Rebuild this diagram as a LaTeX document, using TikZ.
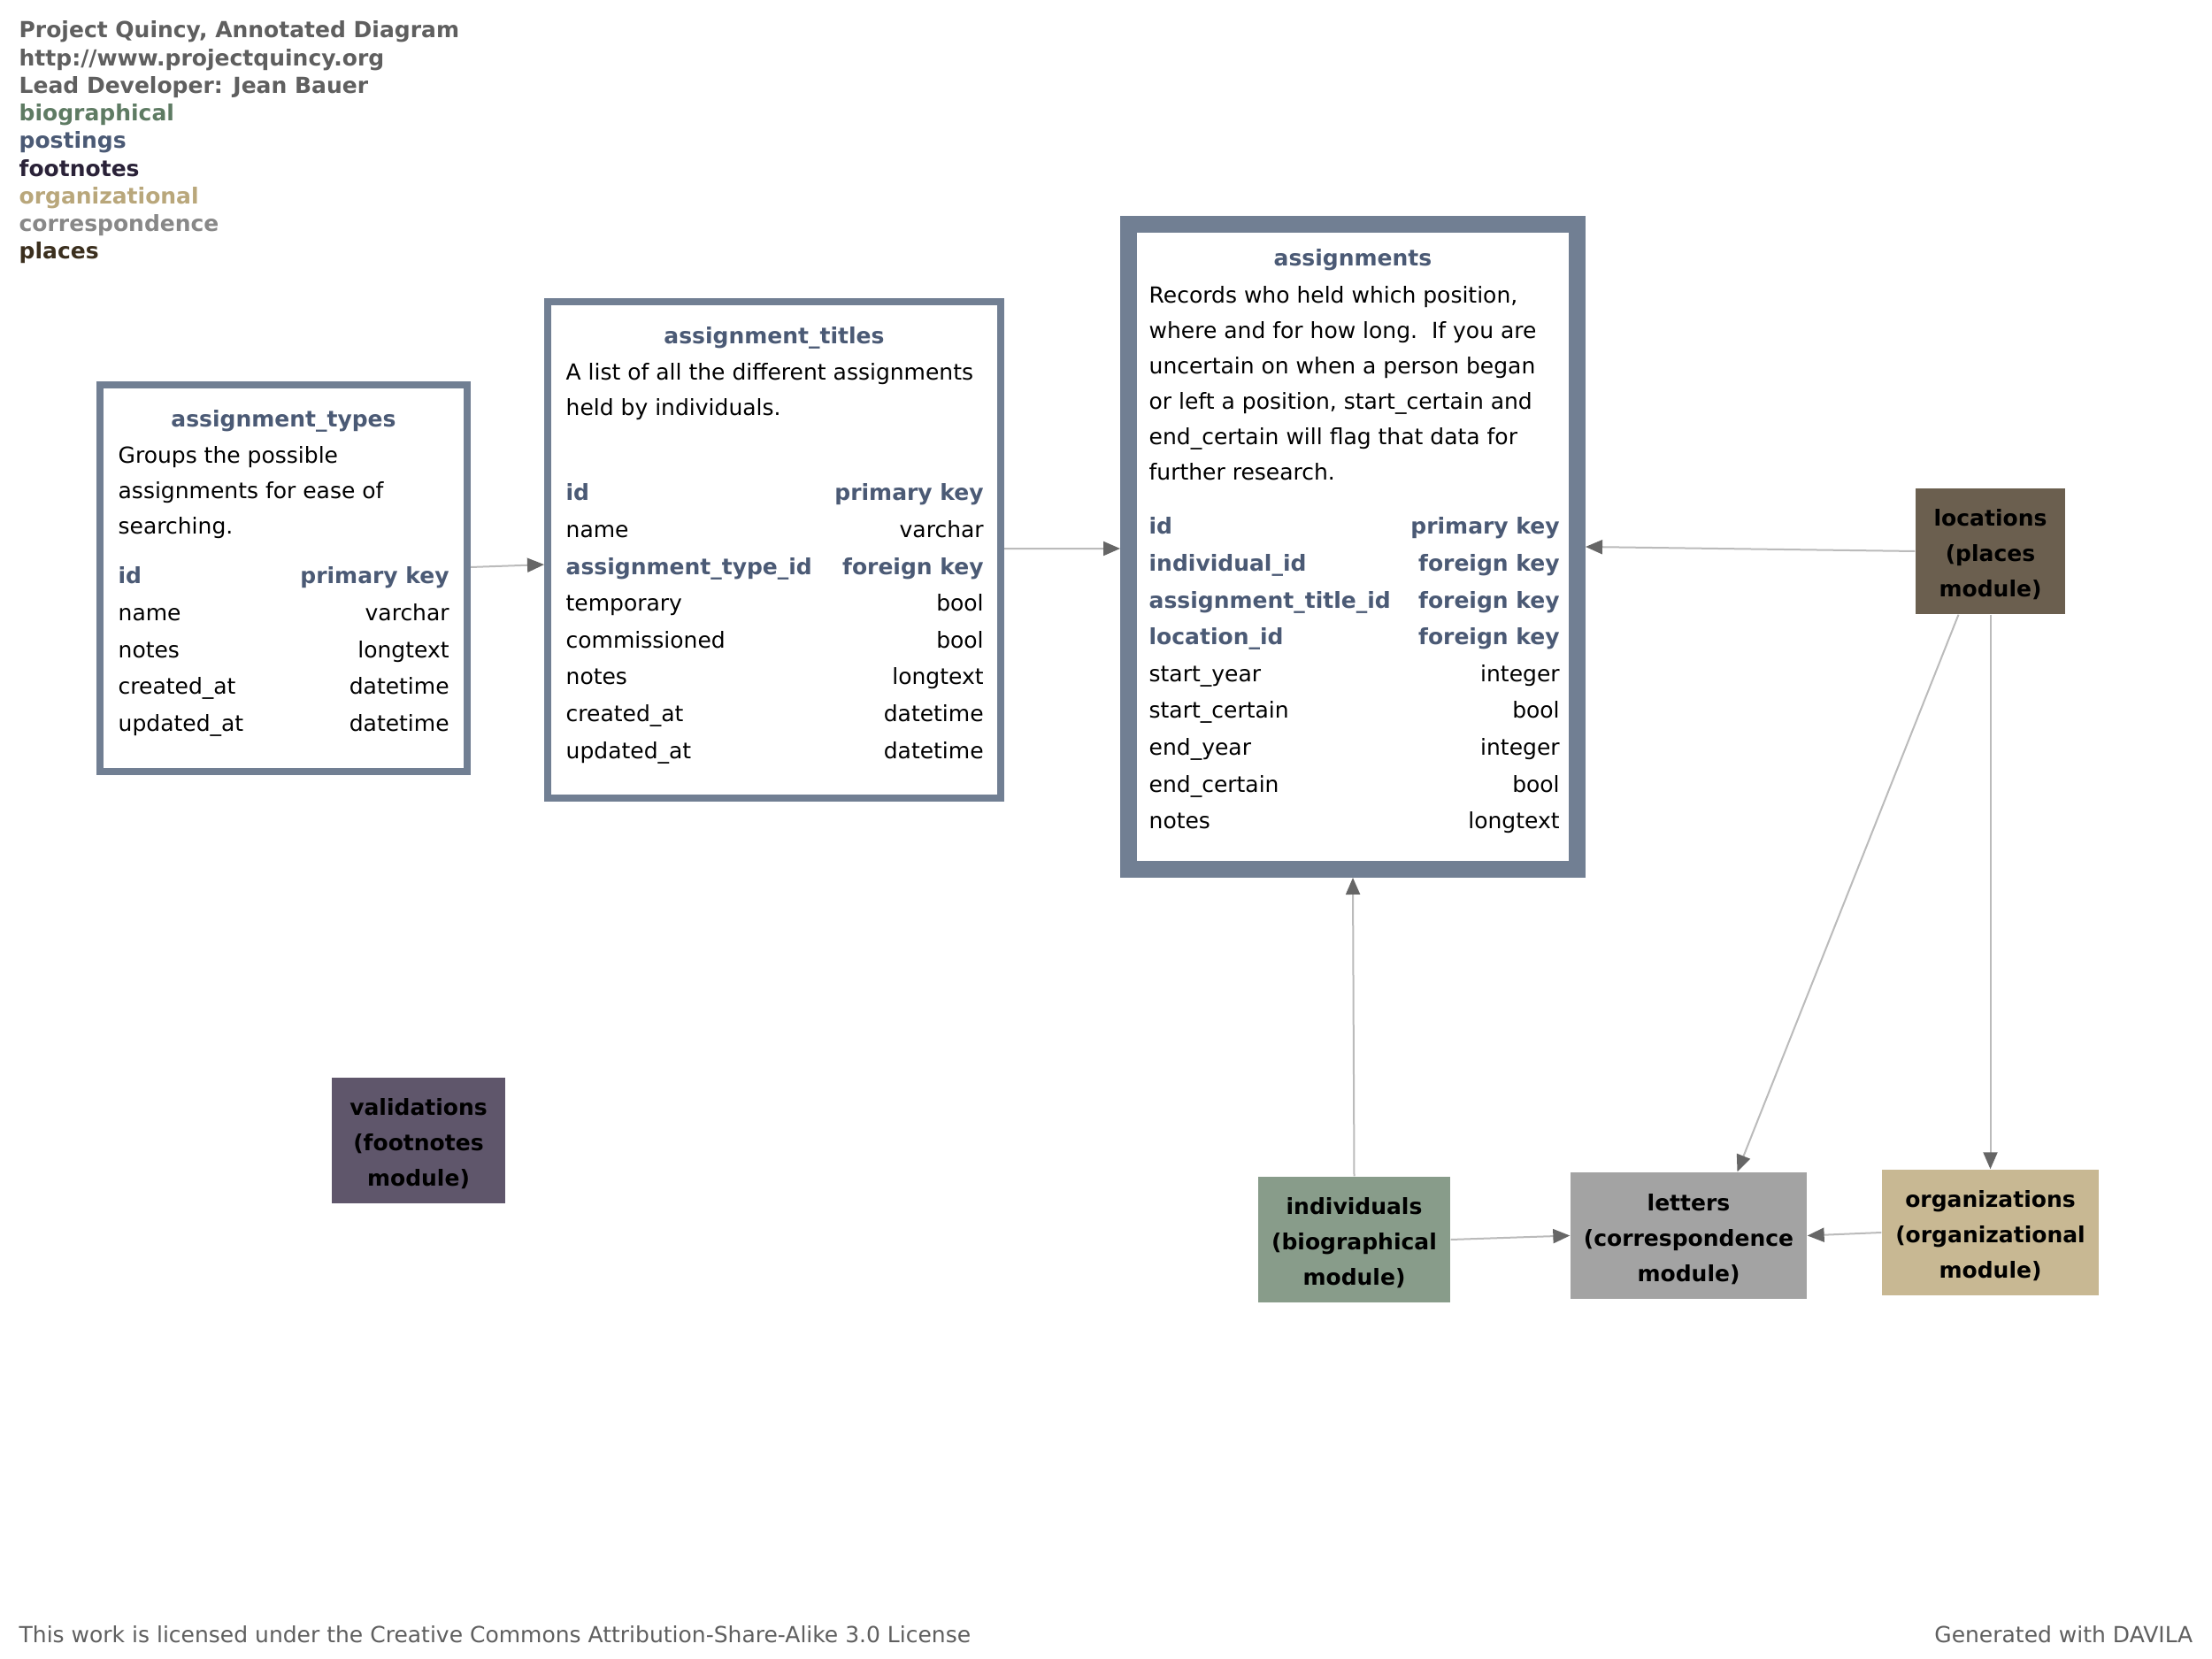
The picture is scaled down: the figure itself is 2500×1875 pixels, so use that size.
\documentclass[tikz,border=0pt]{standalone}
\usepackage{fontspec}
\setmainfont{DejaVu Sans}
\usepackage{xcolor}
\usepackage{tikz}
\usetikzlibrary{arrows.meta}
\usetikzlibrary{calc}

\definecolor{headgray}{HTML}{5F5F5F}
\definecolor{biocol}{HTML}{5E7B63}
\definecolor{keyblue}{HTML}{4B5A75}
\definecolor{footcol}{HTML}{2A2238}
\definecolor{orgcol}{HTML}{B9A77B}
\definecolor{corrcol}{HTML}{888888}
\definecolor{placecol}{HTML}{3B2F1E}
\definecolor{tableborder}{HTML}{717F93}
\definecolor{locfill}{HTML}{6B5F4F}
\definecolor{valfill}{HTML}{5F566B}
\definecolor{indfill}{HTML}{889C8A}
\definecolor{letfill}{HTML}{A3A3A3}
\definecolor{orgfill}{HTML}{C8B893}
\definecolor{linegray}{HTML}{BBBBBB}
\definecolor{arrowgray}{HTML}{666666}

\newcommand{\keyf}[1]{\textcolor{keyblue}{\bfseries #1}}
\newcommand{\desclines}[1]{\begin{tabular}[t]{@{}l@{}}#1\end{tabular}}
\newcommand{\modtext}[1]{\begin{tabular}{@{}c@{}}\rule{0pt}{10.6pt}#1\end{tabular}}

\tikzstyle{tablebox}=[rectangle,draw=tableborder,line width=2.4pt,fill=white,inner sep=0pt]
\tikzstyle{bigbox}=[tablebox,line width=5.7pt]
\tikzstyle{tabtitle}=[anchor=base,inner sep=0pt,text=keyblue,font=\bfseries\fontsize{7.5}{9}\selectfont]
\tikzstyle{tabdesc}=[anchor=base west,inner sep=0pt,font=\fontsize{7.5}{12}\selectfont]
\tikzstyle{tabfields}=[anchor=base west,inner sep=0pt,font=\fontsize{7.5}{12.48}\selectfont]
\tikzstyle{modulebox}=[rectangle,inner sep=0pt,minimum height=42.6pt,font=\bfseries\fontsize{7.5}{12}\selectfont]
\tikzstyle{headlines}=[anchor=base west,inner sep=0pt,font=\bfseries\fontsize{7.5}{9.375}\selectfont]
\tikzstyle{footer}=[inner sep=0pt,text=headgray,font=\fontsize{7.5}{9}\selectfont]
\tikzstyle{link}=[-{Triangle[length=5.7pt,width=4.8pt,color=arrowgray]},draw=linegray,line width=0.6pt]

\begin{document}
\begin{tikzpicture}[x=0.3pt,y=-0.3pt]
\fill[white] (0,0) rectangle (2500,1875);
\useasboundingbox (0,0) rectangle (2500,1875);
%header
\node[headlines] (head) at (21,43) {\desclines{%
\textcolor{headgray}{Project Quincy, Annotated Diagram}\\
\textcolor{headgray}{http://www.projectquincy.org}\\
\textcolor{headgray}{Lead Developer: Jean Bauer}\\
\textcolor{biocol}{biographical}\\
\textcolor{keyblue}{postings}\\
\textcolor{footcol}{footnotes}\\
\textcolor{orgcol}{organizational}\\
\textcolor{corrcol}{correspondence}\\
\textcolor{placecol}{places}}};
%tables
\node[tablebox,minimum width=124.5pt,minimum height=131.1pt] (types) at (320.5,653.5) {};
\node[tabtitle] (typestitle) at (320.5,483) {assignment\_types};
\node[tabdesc] (typesdesc) at (133,524) {\desclines{Groups the possible\\assignments for ease of\\searching.}};
\node[tabfields] (typesfields) at (133,660) {\begin{tabular*}{112.2pt}[t]{@{}l@{\extracolsep{\fill}}r@{}}
\keyf{id} & \keyf{primary key}\\
name & varchar\\
notes & longtext\\
created\_at & datetime\\
updated\_at & datetime
\end{tabular*}};

\node[tablebox,minimum width=153.6pt,minimum height=168.3pt] (titles) at (875,621.75) {};
\node[tabtitle] (titlestitle) at (875,389) {assignment\_titles};
\node[tabdesc] (titlesdesc) at (639,430) {\desclines{A list of all the different assignments\\held by individuals.}};
\node[tabfields] (titlesfields) at (639,566) {\begin{tabular*}{141.6pt}[t]{@{}l@{\extracolsep{\fill}}r@{}}
\keyf{id} & \keyf{primary key}\\
name & varchar\\
\keyf{assignment\_type\_id} & \keyf{foreign key}\\
temporary & bool\\
commissioned & bool\\
notes & longtext\\
created\_at & datetime\\
updated\_at & datetime
\end{tabular*}};

\node[bigbox,minimum width=152.1pt,minimum height=218.7pt] (assignments) at (1529,618) {};
\node[tabtitle] (assigntitle) at (1529,301) {assignments};
\node[tabdesc] (assigndesc) at (1298,343) {\desclines{Records who held which position,\\where and for how long.\ \ If you are\\uncertain on when a person began\\or left a position, start\_certain and\\end\_certain will flag that data for\\further research.}};
\node[tabfields] (assignfields) at (1298,604) {\begin{tabular*}{139.2pt}[t]{@{}l@{\extracolsep{\fill}}r@{}}
\keyf{id} & \keyf{primary key}\\
\keyf{individual\_id} & \keyf{foreign key}\\
\keyf{assignment\_title\_id} & \keyf{foreign key}\\
\keyf{location\_id} & \keyf{foreign key}\\
start\_year & integer\\
start\_certain & bool\\
end\_year & integer\\
end\_certain & bool\\
notes & longtext
\end{tabular*}};
%modules
\node[modulebox,fill=locfill,minimum width=50.7pt] (locations) at (2249.5,623) {\modtext{locations\\(places\\module)}};
\node[modulebox,fill=valfill,minimum width=58.8pt] (validations) at (473,1289) {\modtext{validations\\(footnotes\\module)}};
\node[modulebox,fill=indfill,minimum width=65.1pt] (individuals) at (1530.5,1401) {\modtext{individuals\\(biographical\\module)}};
\node[modulebox,fill=letfill,minimum width=80.1pt,minimum height=42.9pt] (letters) at (1908.5,1396.5) {\modtext{letters\\(correspondence\\module)}};
\node[modulebox,fill=orgfill,minimum width=73.5pt] (organizations) at (2249.5,1393) {\modtext{organizations\\(organizational\\module)}};
%footer
\node[footer,anchor=base west] (license) at (21,1856) {This work is licensed under the Creative Commons Attribution-Share-Alike 3.0 License};
\node[footer,anchor=base east] (davila) at (2479,1856) {Generated with DAVILA};
%links
\draw[link] ([yshift=3.75pt]types.east) -- ([yshift=-4.9pt]titles.west);
\draw[link] ([yshift=0.5pt]titles.east) -- ([yshift=-0.6pt]assignments.west);
\draw[link] (locations.west) -- (assignments.east);
\draw[link] (individuals.north) -- (assignments.south);
\draw[link] ([xshift=-10.8pt]locations.south) -- ([xshift=16.5pt]letters.north);
\draw[link] (locations.south) -- (organizations.north);
\draw[link] (individuals.east) -- (letters.west);
\draw[link] (organizations.west) -- (letters.east);
\end{tikzpicture}
\end{document}
